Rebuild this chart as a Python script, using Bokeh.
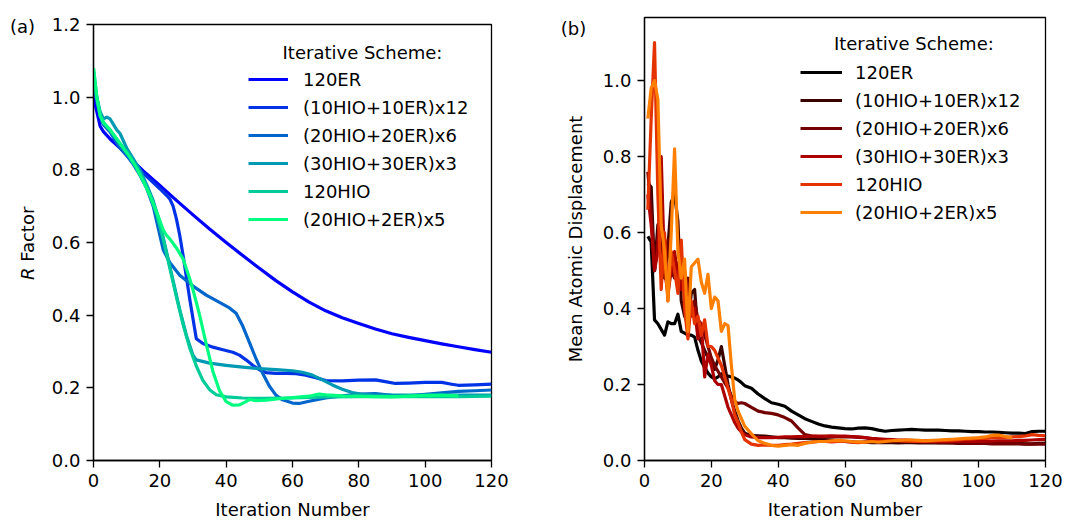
from bokeh.plotting import figure
from bokeh.layouts import row
from bokeh.models import FixedTicker, PrintfTickFormatter, Label, Range1d
from bokeh.embed import file_html
from bokeh.resources import INLINE

# ---------------- data: panel (a) R factor ----------------
SCHEMES = ["120ER", "(10HIO+10ER)x12", "(20HIO+20ER)x6", "(30HIO+30ER)x3", "120HIO", "(20HIO+2ER)x5"]
COLORS_A = ["#0000ff", "#0033e6", "#0066cc", "#0099b3", "#00cc99", "#00ff80"]
COLORS_B = ["#000000", "#390000", "#730000", "#ac0000", "#e53300", "#ff7f00"]
X_TICKS = [0, 20, 40, 60, 80, 100, 120]
Y_TICKS_A = [0.0, 0.2, 0.4, 0.6, 0.8, 1.0, 1.2]
Y_TICKS_B = [0.0, 0.2, 0.4, 0.6, 0.8, 1.0]

a_120er_x = [0, 1, 2, 3, 5, 8, 10, 12, 15, 20, 25, 30, 35, 40, 45, 50, 55, 60, 65, 70, 75, 80, 85, 90, 95, 100, 105, 110, 115, 120]
a_120er_y = [1.0, 0.96, 0.92, 0.905, 0.885, 0.86, 0.843, 0.823, 0.797, 0.757, 0.716, 0.676, 0.637, 0.6, 0.564, 0.529, 0.495, 0.464, 0.436, 0.412, 0.393, 0.377, 0.362, 0.349, 0.339, 0.33, 0.321, 0.313, 0.305, 0.298]

a_10x12_x = [0, 1, 2, 3, 4, 5, 6, 7, 8, 9, 10, 12, 14, 16, 18, 20, 22, 23, 24, 25, 26, 27, 28, 29, 30, 31, 33, 36, 39, 42, 44, 46, 48, 50, 52, 55, 58, 61, 64, 67, 70, 75, 80, 85, 88, 91, 95, 100, 105, 108, 110, 115, 120]
a_10x12_y = [1.04, 0.99, 0.95, 0.925, 0.915, 0.905, 0.89, 0.875, 0.86, 0.85, 0.84, 0.82, 0.80, 0.782, 0.765, 0.748, 0.73, 0.72, 0.70, 0.665, 0.62, 0.565, 0.505, 0.445, 0.39, 0.335, 0.322, 0.312, 0.305, 0.298, 0.29, 0.277, 0.262, 0.25, 0.242, 0.24, 0.24, 0.239, 0.235, 0.228, 0.22, 0.219, 0.221, 0.222, 0.217, 0.212, 0.213, 0.215, 0.215, 0.21, 0.207, 0.208, 0.21]

a_20x6_x = [0, 1, 2, 3, 4, 5, 6, 7, 8, 9, 10, 12, 14, 16, 18, 20, 21, 23, 26, 30, 34, 38, 41, 43, 45, 47, 49, 51, 53, 55, 57, 60, 62, 65, 70, 75, 80, 85, 90, 95, 100, 105, 110, 115, 120]
a_20x6_y = [1.04, 0.99, 0.95, 0.925, 0.915, 0.905, 0.89, 0.875, 0.86, 0.85, 0.84, 0.815, 0.785, 0.75, 0.70, 0.62, 0.58, 0.545, 0.51, 0.48, 0.455, 0.435, 0.42, 0.405, 0.37, 0.325, 0.28, 0.24, 0.205, 0.18, 0.167, 0.158, 0.157, 0.163, 0.172, 0.178, 0.183, 0.184, 0.179, 0.178, 0.182, 0.186, 0.19, 0.192, 0.194]

a_30x3_x = [0, 1, 2, 3, 4, 5, 6, 7, 8, 9, 10, 12, 14, 16, 18, 20, 22, 24, 26, 28, 30, 31, 35, 40, 45, 50, 55, 60, 63, 66, 69, 72, 75, 78, 81, 85, 90, 95, 100, 110, 120]
a_30x3_y = [1.04, 1.0, 0.96, 0.94, 0.945, 0.94, 0.925, 0.91, 0.9, 0.88, 0.86, 0.83, 0.80, 0.76, 0.715, 0.655, 0.575, 0.495, 0.415, 0.345, 0.29, 0.277, 0.268, 0.262, 0.257, 0.253, 0.25, 0.247, 0.243, 0.235, 0.222, 0.208, 0.196, 0.187, 0.182, 0.18, 0.18, 0.18, 0.18, 0.18, 0.18]

a_120hio_x = [0, 1, 2, 3, 5, 7, 9, 11, 13, 15, 17, 19, 21, 23, 25, 27, 29, 31, 33, 35, 37, 40, 45, 50, 60, 70, 80, 90, 100, 110, 120]
a_120hio_y = [1.08, 1.0, 0.95, 0.93, 0.91, 0.885, 0.86, 0.835, 0.805, 0.77, 0.73, 0.68, 0.61, 0.53, 0.45, 0.375, 0.31, 0.26, 0.22, 0.195, 0.181, 0.175, 0.172, 0.171, 0.172, 0.175, 0.176, 0.176, 0.176, 0.176, 0.177]

a_20x5_x = [0, 1, 2, 3, 5, 7, 9, 11, 13, 15, 17, 19, 20, 21, 22, 23, 25, 27, 29, 30, 32, 34, 36, 38, 40, 42, 44, 46, 47, 49, 52, 56, 60, 65, 68, 70, 75, 80, 85, 90, 95, 100, 105, 110]
a_20x5_y = [1.08, 1.0, 0.95, 0.93, 0.91, 0.885, 0.86, 0.835, 0.805, 0.77, 0.73, 0.685, 0.66, 0.635, 0.62, 0.61, 0.585, 0.555, 0.5, 0.47, 0.40, 0.32, 0.245, 0.192, 0.162, 0.152, 0.153, 0.162, 0.168, 0.165, 0.166, 0.17, 0.173, 0.177, 0.183, 0.181, 0.178, 0.177, 0.176, 0.175, 0.177, 0.179, 0.18, 0.178]

# ---------------- data: panel (b) mean atomic displacement ----------------
b_iter = [1, 2, 3, 4, 5, 6, 7, 8, 9, 10, 11, 12, 13, 14, 15, 16, 17, 18, 19, 20,
          21, 22, 23, 24, 25, 26, 27, 28, 29, 30, 32, 34, 36, 38, 40, 42, 44, 46, 48, 50,
          52, 54, 56, 58, 60, 62, 64, 66, 68, 70, 72, 74, 76, 78, 80, 82, 84, 86, 88, 90,
          92, 94, 96, 98, 100, 102, 104, 106, 108, 110, 112, 114, 116, 118, 120]

b_120er = [0.59, 0.575, 0.37, 0.36, 0.345, 0.33, 0.365, 0.36, 0.36, 0.385,
           0.34, 0.335, 0.33, 0.33, 0.325, 0.29, 0.262, 0.245, 0.23, 0.22,
           0.215, 0.22, 0.228, 0.225, 0.222, 0.22, 0.217, 0.212, 0.205, 0.197,
           0.19, 0.175, 0.163, 0.152, 0.148, 0.143, 0.13, 0.12, 0.11, 0.103,
           0.096, 0.091, 0.088, 0.086, 0.084, 0.083, 0.085, 0.086, 0.084, 0.08,
           0.077, 0.079, 0.08, 0.081, 0.082, 0.081, 0.08, 0.08, 0.08, 0.079,
           0.078, 0.078, 0.077, 0.076, 0.076, 0.075, 0.075, 0.074, 0.073, 0.072,
           0.072, 0.071, 0.076, 0.077, 0.077]

b_10x12 = [0.73, 0.72, 0.5, 0.62, 0.55, 0.48, 0.56, 0.68, 0.70, 0.63,
           0.42, 0.38, 0.36, 0.44, 0.45, 0.33, 0.31, 0.29, 0.27, 0.255,
           0.24, 0.265, 0.30, 0.25, 0.2, 0.16, 0.13, 0.105, 0.085, 0.072,
           0.066, 0.065, 0.064, 0.062, 0.06, 0.06, 0.059, 0.058, 0.058, 0.057,
           0.056, 0.055, 0.054, 0.052, 0.05, 0.049, 0.048, 0.048, 0.047, 0.047,
           0.047, 0.047, 0.046, 0.047, 0.047, 0.046, 0.046, 0.046, 0.046, 0.046,
           0.046, 0.045, 0.045, 0.046, 0.046, 0.045, 0.045, 0.045, 0.045, 0.045,
           0.045, 0.044, 0.044, 0.045, 0.045]

b_20x6 = [0.76, 0.66, 0.5, 0.58, 0.6, 0.52, 0.58, 0.5, 0.48, 0.52,
          0.47, 0.46, 0.48, 0.4, 0.42, 0.37, 0.36, 0.33, 0.3, 0.27,
          0.25, 0.235, 0.22, 0.205, 0.19, 0.17, 0.155, 0.15, 0.152, 0.15,
          0.14, 0.13, 0.126, 0.124, 0.12, 0.113, 0.104, 0.085, 0.068, 0.064,
          0.063, 0.062, 0.062, 0.063, 0.062, 0.062, 0.061, 0.06, 0.057, 0.055,
          0.053, 0.052, 0.051, 0.05, 0.05, 0.049, 0.048, 0.048, 0.047, 0.047,
          0.046, 0.046, 0.045, 0.045, 0.045, 0.045, 0.044, 0.044, 0.044, 0.044,
          0.044, 0.043, 0.043, 0.043, 0.043]

b_30x3 = [0.7, 0.62, 0.5, 0.55, 0.8, 0.5, 0.44, 0.5, 0.55, 0.48,
          0.45, 0.5, 0.42, 0.38, 0.4, 0.32, 0.36, 0.22, 0.28, 0.25,
          0.21, 0.2, 0.2, 0.17, 0.14, 0.12, 0.1, 0.085, 0.075, 0.068,
          0.062, 0.06, 0.06, 0.06, 0.061, 0.062, 0.062, 0.063, 0.063, 0.064,
          0.064, 0.064, 0.065, 0.064, 0.064, 0.063, 0.062, 0.06, 0.058, 0.057,
          0.056, 0.055, 0.054, 0.054, 0.053, 0.052, 0.052, 0.051, 0.05, 0.05,
          0.05, 0.05, 0.05, 0.05, 0.05, 0.051, 0.051, 0.052, 0.052, 0.052,
          0.053, 0.053, 0.054, 0.055, 0.055]

b_120hio = [0.66, 0.9, 1.1, 0.7, 0.45, 0.6, 0.42, 0.55, 0.5, 0.44,
            0.58, 0.4, 0.32, 0.42, 0.36, 0.38, 0.33, 0.37, 0.3, 0.3,
            0.29, 0.27, 0.25, 0.22, 0.19, 0.16, 0.12, 0.1, 0.075, 0.055,
            0.043, 0.04, 0.041, 0.04, 0.04, 0.042, 0.043, 0.045, 0.047, 0.048,
            0.05, 0.05, 0.049, 0.05, 0.05, 0.048, 0.047, 0.049, 0.05, 0.05,
            0.051, 0.052, 0.052, 0.051, 0.05, 0.05, 0.05, 0.051, 0.052, 0.052,
            0.053, 0.055, 0.056, 0.057, 0.058, 0.058, 0.06, 0.06, 0.061, 0.062,
            0.063, 0.065, 0.068, 0.066, 0.065]

b_20x5 = [0.9, 0.98, 1.0, 0.95, 0.62, 0.55, 0.42, 0.6, 0.82, 0.55,
          0.48, 0.53, 0.34, 0.51, 0.52, 0.53, 0.47, 0.44, 0.49, 0.4,
          0.43, 0.42, 0.34, 0.36, 0.355, 0.25, 0.16, 0.13, 0.11, 0.09,
          0.07, 0.052, 0.045, 0.04, 0.038, 0.04, 0.042, 0.04, 0.045, 0.048,
          0.05, 0.05, 0.052, 0.053, 0.052, 0.05, 0.049, 0.048, 0.05, 0.048,
          0.05, 0.052, 0.053, 0.054, 0.054, 0.053, 0.052, 0.053, 0.054, 0.055,
          0.056, 0.057, 0.058, 0.059, 0.06, 0.062, 0.066, 0.067, 0.063, 0.06]

FONT = "DejaVu Sans"
FS = "18px"
H = 523


def style(p, yticks):
    p.xaxis.ticker = FixedTicker(ticks=X_TICKS)
    p.yaxis.ticker = FixedTicker(ticks=yticks)
    p.yaxis.formatter = PrintfTickFormatter(format="%.1f")
    for ax in p.axis:
        ax.major_tick_out = 7
        ax.major_tick_in = 0
        ax.minor_tick_out = 0
        ax.minor_tick_in = 0
        ax.axis_line_width = 1.3
        ax.axis_line_color = "black"
        ax.major_tick_line_width = 1.3
        ax.major_tick_line_color = "black"
        ax.major_label_text_font = FONT
        ax.major_label_text_font_size = FS
        ax.major_label_text_color = "black"
        ax.major_label_standoff = 6
        ax.axis_label_text_font = FONT
        ax.axis_label_text_font_size = FS
        ax.axis_label_text_font_style = "normal"
        ax.axis_label_text_color = "black"
    p.xaxis.axis_label = "Iteration Number"
    p.xaxis.axis_label_standoff = 9
    p.grid.visible = False
    p.outline_line_color = "black"
    p.outline_line_width = 1.3
    p.outline_line_alpha = 1.0
    p.background_fill_color = "white"
    p.border_fill_color = "white"


def style_legend(p, x, y, glyph_w, standoff):
    lg = p.legend[0]
    lg.location = (x, y)
    lg.background_fill_alpha = 0
    lg.border_line_alpha = 0
    lg.padding = 0
    lg.margin = 0
    lg.spacing = 0
    lg.glyph_width = glyph_w
    lg.glyph_height = 28
    lg.label_height = 28
    lg.label_standoff = standoff
    lg.label_text_font = FONT
    lg.label_text_font_size = FS
    lg.label_text_color = "black"


def side_strip(w):
    # blank strip (pixel-coordinate ranges) that carries texts left of a panel
    s = figure(width=w, height=H, x_range=Range1d(0, w), y_range=Range1d(0, H), title=None,
               x_axis_location=None, y_axis_location=None, frame_align=False,
               output_backend="svg", toolbar_location=None,
               min_border_left=0, min_border_right=0, min_border_top=0, min_border_bottom=0)
    s.grid.visible = False
    s.outline_line_color = None
    s.background_fill_color = "white"
    s.border_fill_color = "white"
    return s


def txt(fig, x, y, text, angle=0.0, align="center", style_="normal"):
    fig.add_layout(Label(x=x, y=y, text=text, angle=angle, text_align=align, text_baseline="middle",
                         text_font=FONT, text_font_size=FS, text_font_style=style_, text_color="black"))


# ---------------- strip left of panel (a) ----------------
sa = side_strip(47)
txt(sa, 22, H - 26, "(a)")
txt(sa, 27, H - 279.5, "R", angle=1.5708, align="left", style_="italic")
txt(sa, 27, H - 261.3, "Factor", angle=1.5708, align="left")

# ---------------- panel (a) ----------------
p1 = figure(width=493, height=H, x_range=Range1d(0, 120), y_range=Range1d(0, 1.2),
            output_backend="svg", toolbar_location=None, frame_align=False,
            min_border_left=46, min_border_right=49, min_border_top=24, min_border_bottom=63)
style(p1, Y_TICKS_A)

a_x = [a_120er_x, a_10x12_x, a_20x6_x, a_30x3_x, a_120hio_x, a_20x5_x]
a_y = [a_120er_y, a_10x12_y, a_20x6_y, a_30x3_y, a_120hio_y, a_20x5_y]
for xs, ys, c, name in zip(a_x, a_y, COLORS_A, SCHEMES):
    p1.line(xs, ys, line_color=c, line_width=3.2, line_join="round", legend_label=name)
style_legend(p1, 155, 227, 40, 15)
txt(p1, 81.1, 1.124, "Iterative Scheme:")

# ---------------- strip left of panel (b) ----------------
sb = side_strip(50)
txt(sb, 33, H - 27.5, "(b)")
txt(sb, 35, H - 238.5, "Mean Atomic Displacement", angle=1.5708, align="center")

# ---------------- panel (b) ----------------
p2 = figure(width=487, height=H, x_range=Range1d(0, 120), y_range=Range1d(0, 1.166),
            output_backend="svg", toolbar_location=None, frame_align=False,
            min_border_left=54, min_border_right=32, min_border_top=17, min_border_bottom=63)
style(p2, Y_TICKS_B)

b_y = [b_120er, b_10x12, b_20x6, b_30x3, b_120hio, b_20x5]
for ys, c, name in zip(b_y, COLORS_B, SCHEMES):
    p2.line(b_iter[:len(ys)], ys, line_color=c, line_width=3.2, line_join="round", legend_label=name)
style_legend(p2, 156, 234, 42, 13)
txt(p2, 80.6, 1.0966, "Iterative Scheme:")

layout = row(sa, p1, sb, p2)
open("out.html", "w").write(file_html(layout, INLINE))
